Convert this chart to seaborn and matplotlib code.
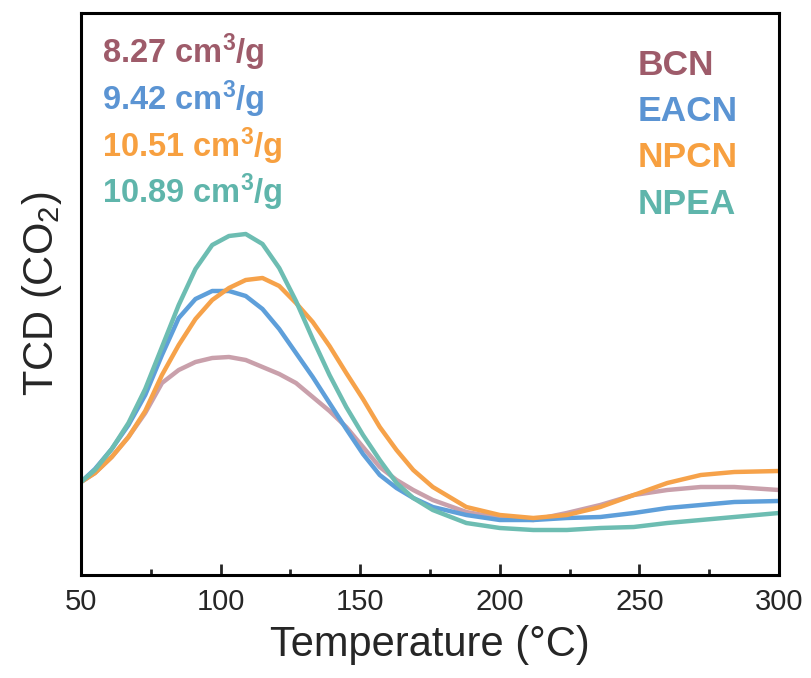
import numpy as np
import pandas as pd
import matplotlib
matplotlib.use("Agg")
import matplotlib.pyplot as plt
from matplotlib.ticker import MultipleLocator
import seaborn as sns

# ---- data (arbitrary TCD units) ----
temperature = [50, 55, 61, 67, 73, 79, 85, 91, 97, 103, 109, 115, 121, 127, 133, 139,
               145, 151, 157, 163, 169, 176, 188, 200, 212, 224, 236, 248, 260, 272, 284, 300]
bcn  = [93, 102, 118, 138, 162, 192, 205, 213, 217, 218, 215, 208, 201, 192, 178, 164,
        148, 128, 108, 95, 85, 75, 63, 57, 55, 62, 70, 80, 85, 88, 88, 85]
eacn = [93, 106, 126, 150, 180, 220, 257, 276, 284, 284, 279, 266, 246, 222, 198, 172,
        146, 121, 100, 87, 77, 68, 60, 55, 55, 57, 58, 62, 67, 70, 73, 74]
npcn = [93, 102, 118, 138, 164, 200, 230, 256, 275, 287, 295, 297, 289, 272, 253, 229,
        202, 176, 148, 125, 105, 88, 68, 60, 57, 60, 68, 80, 92, 100, 103, 104]
npea = [93, 105, 126, 152, 186, 228, 270, 306, 330, 339, 341, 331, 307, 274, 236, 200,
        168, 140, 115, 92, 77, 65, 52, 47, 45, 45, 47, 48, 52, 55, 58, 62]

samples = ["BCN", "EACN", "NPCN", "NPEA"]
uptakes = ["8.27", "9.42", "10.51", "10.89"]
line_colors = ["#C9A0AB", "#5E9FDA", "#F6A24A", "#6DBDB2"]
text_colors = ["#9E5B6A", "#5B94D3", "#F7A040", "#5FB5AB"]
xticks = [50, 100, 150, 200, 250, 300]

df = pd.DataFrame({
    "Temperature": temperature * 4,
    "TCD": bcn + eacn + npcn + npea,
    "Sample": sum([[s] * len(temperature) for s in samples], []),
})

sns.set_style("ticks")
plt.rcParams["font.family"] = ["Liberation Sans", "DejaVu Sans"]
plt.rcParams["mathtext.fontset"] = "custom"
plt.rcParams["mathtext.rm"] = "Liberation Sans"
plt.rcParams["mathtext.it"] = "Liberation Sans:italic"
plt.rcParams["mathtext.bf"] = "Liberation Sans:bold"

fig = plt.figure(figsize=(8.11, 6.78), dpi=100)
ax = fig.add_axes([81 / 811, 1 - 575 / 678, (779 - 81) / 811, (575 - 13) / 678])

sns.lineplot(data=df, x="Temperature", y="TCD", hue="Sample",
             palette=dict(zip(samples, line_colors)), linewidth=3.2,
             legend=False, ax=ax)

ax.set_xlim(50, 300)
ax.set_ylim(0, 562)
ax.set_xticks(xticks)
ax.set_xticklabels([str(t) for t in xticks])
ax.xaxis.set_minor_locator(MultipleLocator(25))
ax.set_yticks([])
ax.tick_params(axis="x", which="major", direction="in", length=8, width=2,
               labelsize=21, pad=9)
ax.tick_params(axis="x", which="minor", direction="in", length=4, width=2)
for sp in ax.spines.values():
    sp.set_visible(True)
    sp.set_linewidth(2.2)
    sp.set_color("black")

ax.set_xlabel("Temperature (°C)", fontsize=30, labelpad=7)
ax.set_ylabel(r"TCD (CO$_2$)", fontsize=30, labelpad=12)

def axfrac(px, py):
    return (px - 81) / (779 - 81), (575 - py) / (575 - 13)

base_left = [63, 110, 157, 203]
base_right = [75, 121, 167, 214]
for i in range(4):
    x, y = axfrac(102, base_left[i])
    ax.text(x, y, uptakes[i] + r" cm$^{\mathbf{3}}$/g", transform=ax.transAxes,
            color=text_colors[i], fontsize=23.5, fontweight="bold",
            ha="left", va="baseline")
    x, y = axfrac(638, base_right[i])
    ax.text(x, y, samples[i], transform=ax.transAxes,
            color=text_colors[i], fontsize=25.5, fontweight="bold",
            ha="left", va="baseline")

fig.savefig("out.png", dpi=100)
